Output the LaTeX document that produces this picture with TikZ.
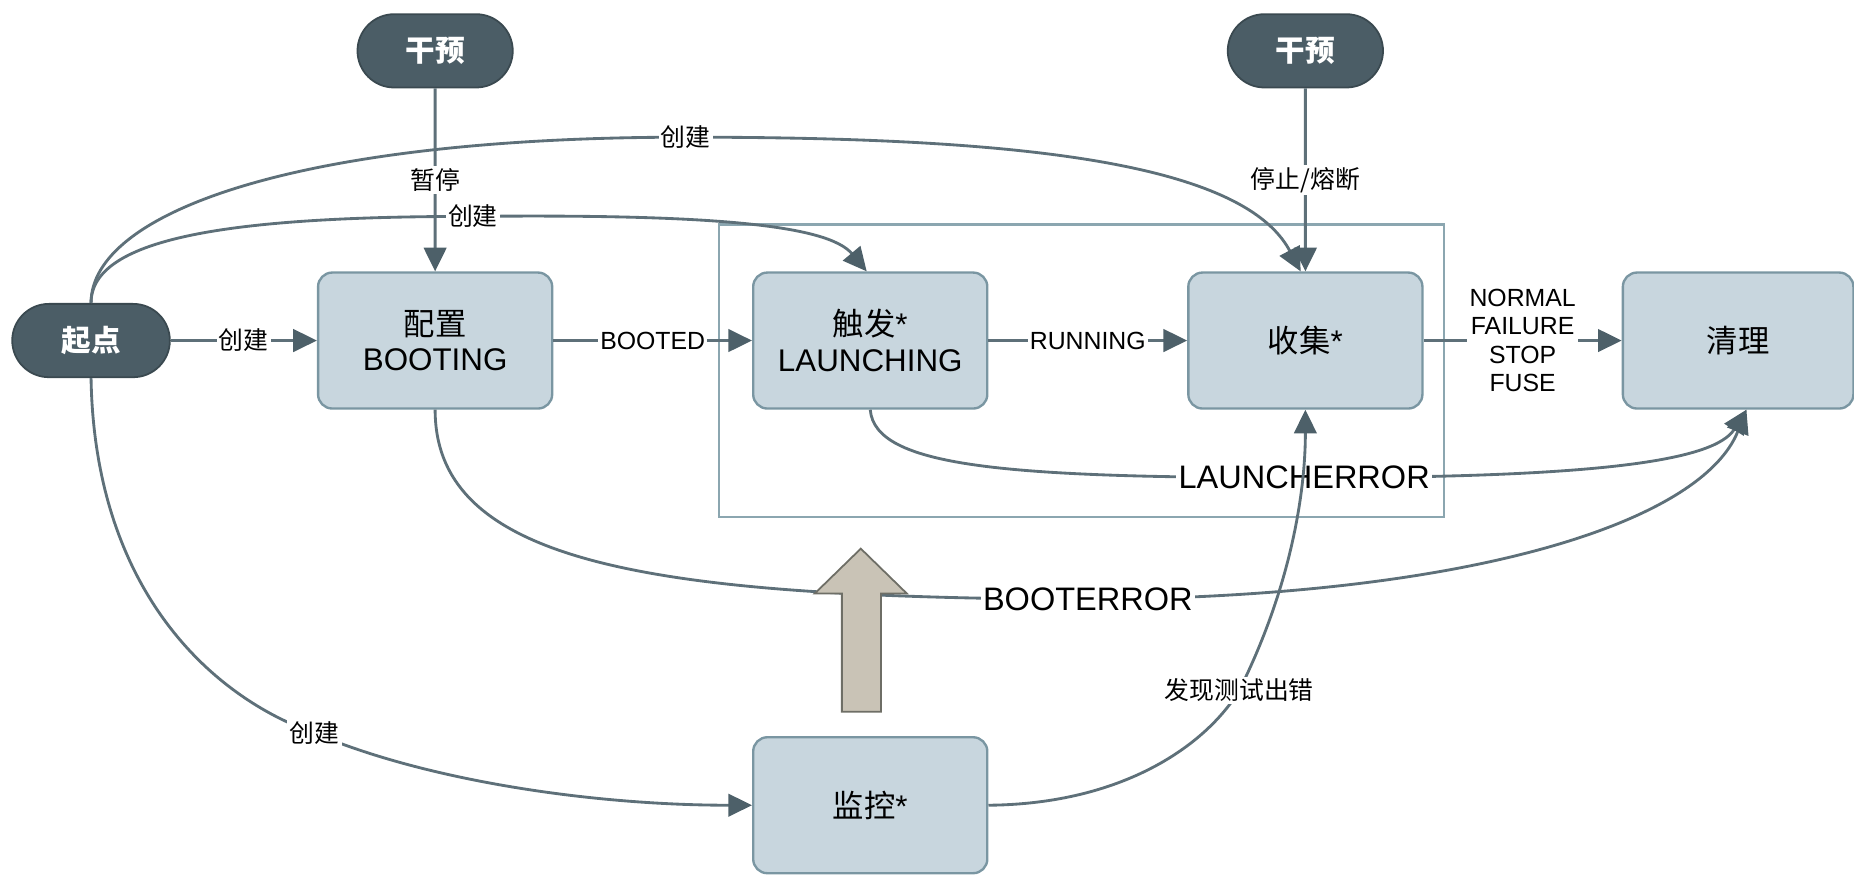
\documentclass[tikz,border=0pt]{standalone}
\usepackage{fontspec}
\setmainfont{Liberation Sans}
\newfontfamily\cjk{Noto Sans CJK SC}
\usetikzlibrary{arrows.meta,shapes.misc}
\definecolor{pillc}{HTML}{4B5D66}
\definecolor{pilld}{HTML}{3A4950}
\definecolor{boxc}{HTML}{C8D6DE}
\definecolor{boxd}{HTML}{7A96A2}
\definecolor{linec}{HTML}{5E7079}
\definecolor{headc}{HTML}{4D6069}
\definecolor{framec}{HTML}{8BA6B0}
\definecolor{bigf}{HTML}{C9C3B6}
\definecolor{bigd}{HTML}{6E6E66}
\begin{document}
\begin{tikzpicture}[x=1pt,y=-1pt,
  pill/.style={rounded rectangle, fill=pillc, draw=pilld, line width=1.5pt,
    minimum width=138pt, minimum height=62pt, text=white,
    font=\fontsize{25}{29}\selectfont\cjk\bfseries},
  stbox/.style={rectangle, rounded corners=12pt, fill=boxc, draw=boxd, line width=2pt,
    minimum width=198pt, minimum height=115pt, align=center,
    font=\fontsize{26.5}{30}\selectfont},
  conn/.style={draw=linec, line width=2.4pt},
  arr/.style={conn, -{Triangle[length=20pt,width=19pt,color=headc]}},
  lab/.style={fill=white, inner sep=2pt, font=\fontsize{21}{24}\selectfont},
  biglab/.style={fill=white, inner sep=2pt, font=\fontsize{27.5}{30}\selectfont}]
\useasboundingbox (0,0) rectangle (1568,740);

% frame
\node[draw=framec, line width=2pt, minimum width=613pt, minimum height=247pt, inner sep=0pt] (frame) at (914.5,313.5) {};

% nodes
\node[pill] (gy1) at (368,43) {干预};
\node[pill] (gy2) at (1104,43) {干预};
\node[pill, minimum width=140pt] (qd) at (77,288) {起点};
\node[stbox] (boot) at (368,288) {{\cjk 配置}\\BOOTING};
\node[stbox] (lc) at (736,288) {{\cjk 触发}*\\LAUNCHING};
\node[stbox] (col) at (1104,288) {{\cjk 收集}*};
\node[stbox, minimum width=195pt] (clean) at (1470,288) {{\cjk 清理}};
\node[stbox] (mon) at (736,681) {{\cjk 监控}*};

% straight connectors
\draw[arr] (qd) -- node[lab]{\cjk 创建} (boot);
\draw[arr] (boot) -- node[lab]{BOOTED} (lc);
\draw[arr] (lc) -- node[lab]{RUNNING} (col);
\draw[arr] (col) -- node[lab, align=center]{NORMAL\\FAILURE\\STOP\\FUSE} (clean);
\draw[arr] (gy1) -- node[lab]{\cjk 暂停} (boot);
\draw[arr] (gy2) -- node[lab]{\cjk 停止/熔断} (col);

% curved connectors from start
\draw[arr] (qd.north) .. controls (77,180) and (250,116) .. (580,116) node[lab]{\cjk 创建}
  .. controls (850,116) and (1050,135) .. ([xshift=-4pt]col.north);
\draw[arr] (qd.north) .. controls (77,200) and (200,183) .. (400,183) node[lab]{\cjk 创建}
  .. controls (600,181) and (700,190) .. ([xshift=-3pt]lc.north);
\draw[arr] (qd.south) .. controls (80,500) and (180,590) .. (266,620) node[lab]{\cjk 创建}
  .. controls (360,660) and (500,681) .. (mon.west);

% error connectors
\draw[arr] (lc.south) .. controls (740,395) and (850,404) .. (1103,404) node[biglab]{LAUNCHERROR}
  .. controls (1350,404) and (1450,390) .. ([xshift=7pt]clean.south);
\draw[arr] (boot.south) .. controls (368,480) and (560,505) .. (920,507) node[biglab]{BOOTERROR}
  .. controls (1250,505) and (1440,440) .. ([xshift=7pt]clean.south);

% big hollow arrow
\draw[fill=bigf, draw=bigd, line width=1.5pt] (712,602) -- (712,502) -- (689,502) -- (728,464)
  -- (767,502) -- (745,502) -- (745,602) -- cycle;

% monitor to collect
\draw[arr] (mon.east) .. controls (950,680) and (1020,630) .. (1048,584) node[lab]{\cjk 发现测试出错}
  .. controls (1090,500) and (1104,420) .. (col.south);
\end{tikzpicture}
\end{document}
